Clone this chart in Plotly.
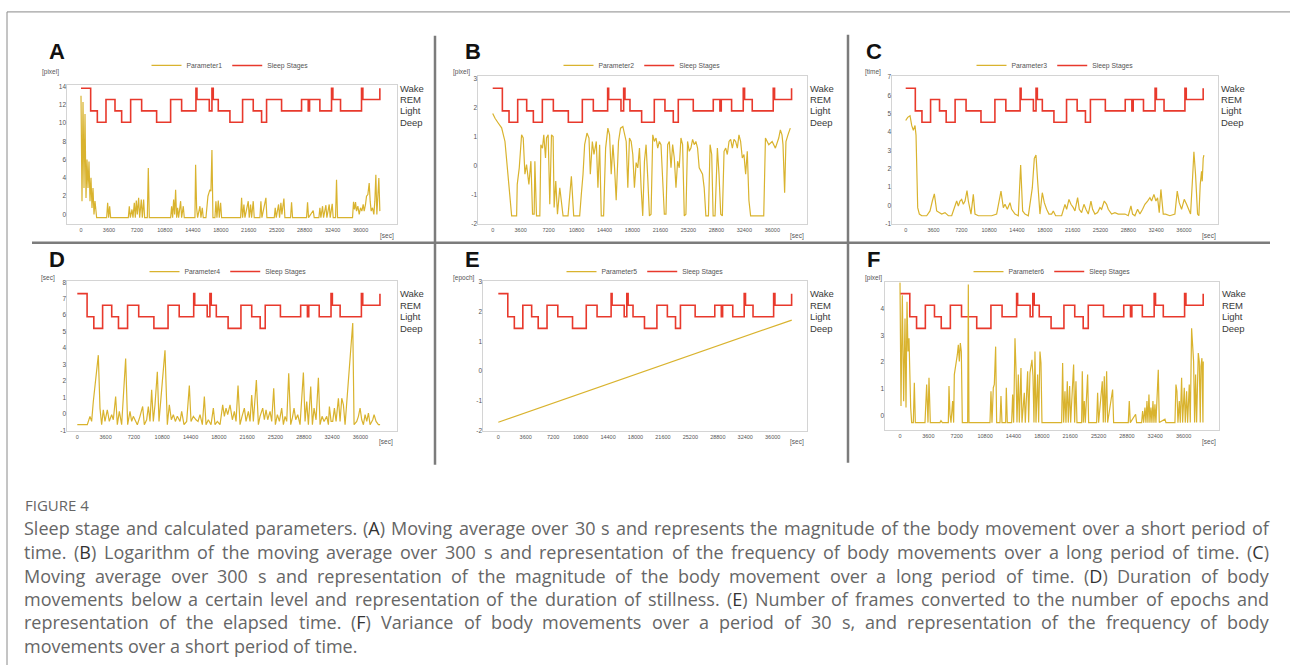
import plotly.graph_objects as go

FIG_W, FIG_H = 1290, 668

# ---------------- data ----------------
X_TICKS = [0, 3600, 7200, 10800, 14400, 18000, 21600, 25200, 28800, 32400, 36000]
STAGE_NAMES = ["Deep", "Light", "REM", "Wake"]          # levels 0..3
STAGE_T = [0, 1244, 2102, 3218, 4376, 5234, 6392, 7808, 9738, 11540, 12956, 14800, 14930,
           16517, 16860, 17031, 17675, 19176, 20807, 22179, 23252, 23895, 25826, 28400,
           29258, 29430, 30760, 32260, 32432, 33419, 36122, 36294, 38482]
STAGE_LEVEL = [3, 1, 0, 2, 1, 0, 2, 1, 0, 2, 1, 3, 2, 1, 3, 2, 1, 0, 2, 1, 0, 2, 1, 2, 1, 2,
               1, 3, 2, 1, 3, 2, 3]

PARAM1 = [(0,13.0),(129,1.45),(257,12.3),(386,2.9),(515,11.0),(644,1.8),(772,6.0),(901,2.9),
 (1030,5.8),(1158,1.45),(1287,4.0),(1416,0.7),(1544,2.9),(1673,0.0),(1802,1.45),(2016,-0.36),
 (3303,-0.36),(3432,1.27),(3561,-0.36),(3689,0.9),(3818,-0.36),(6092,-0.36),(6221,0.9),
 (6349,-0.36),(6564,0.54),(6692,-0.36),(6864,1.27),(6993,-0.36),(7121,1.52),(7250,0.0),
 (7422,1.81),(7550,-0.36),(7765,1.63),(7894,-0.36),(8065,1.63),(8194,-0.36),(8537,-0.36),
 (8666,5.07),(8795,-0.36),(11540,-0.36),(11669,0.9),(11798,-0.36),(11926,1.63),(12055,0.0),
 (12184,2.71),(12312,-0.36),(12441,0.72),(12570,-0.36),(12827,1.45),(12956,-0.36),(13170,0.9),
 (13299,-0.36),(14672,-0.36),(14758,5.43),(14886,0.72),(15015,-0.36),(15315,0.9),(15444,-0.36),
 (15616,0.72),(15744,-0.36),(16088,-0.36),(16216,1.45),(16345,1.99),(16474,2.35),(16602,2.71),
 (16731,2.53),(16860,7.05),(16988,-0.36),(17246,-0.36),(17374,1.45),(17503,-0.36),(17675,1.52),
 (17804,-0.36),(17975,1.27),(18104,-0.36),(20549,-0.36),(20678,1.81),(20807,-0.36),(20978,1.09),
 (21107,-0.36),(21536,1.45),(21664,-0.36),(21836,1.09),(21965,-0.36),(22179,1.45),(22308,-0.36),
 (23037,-0.36),(23166,1.45),(23295,-0.36),(23810,1.81),(23938,-0.36),(24882,-0.36),(25011,0.72),
 (25139,-0.36),(25440,1.09),(25568,-0.36),(25740,1.27),(25869,0.0),(26126,1.74),(26255,-0.36),
 (26984,-0.36),(27113,1.34),(27242,-0.36),(29043,-0.36),(29172,1.34),(29301,-0.36),(29901,0.43),
 (30030,-0.36),(30631,-0.36),(30760,0.72),(30888,-0.36),(31103,0.9),(31231,-0.36),(31532,1.01),
 (31660,-0.36),(31961,1.09),(32089,-0.36),(32347,1.16),(32475,-0.36),(32776,-0.36),(32904,3.8),
 (33033,-0.36),(34964,-0.36),(35092,1.37),(35221,0.54),(35350,1.34),(35478,0.36),(35650,0.9),
 (35822,0.0),(35993,0.72),(36165,0.36),(36336,1.09),(36465,0.36),(36637,1.09),(36765,1.99),
 (36937,2.17),(37109,3.44),(37237,1.45),(37366,0.36),(37538,0.72),(37709,0.0),(37838,1.45),
 (37967,4.34),(38095,0.0),(38224,1.45),(38353,3.98),(38482,0.36)]

PARAM2 = [(0,1.80),(300,1.63),(730,1.46),(1150,1.30),(1580,0.83),(1880,-0.08),(2220,-1.10),
 (2440,-1.74),(3080,-1.74),(3160,-0.65),(3420,-0.08),(3720,1.06),(3930,0.95),(4150,-0.30),
 (4360,0.03),(4660,-0.65),(4920,0.15),(5130,-1.68),(5340,-1.68),(5430,0.15),(5640,-1.74),
 (6070,-1.74),(6200,0.72),(6410,0.60),(6580,1.06),(6800,0.26),(6930,0.95),(7140,1.06),
 (7350,-1.34),(7570,1.06),(7780,1.00),(7910,-1.45),(8120,-0.54),(8340,-1.68),(8640,-0.77),
 (9060,-1.74),(9700,-1.74),(10130,-0.37),(10430,-1.74),(11200,-1.74),(11410,-1.00),(11630,-0.30),
 (11840,0.72),(12140,1.12),(12400,0.95),(12570,-0.30),(12830,0.83),(13040,0.38),(13340,0.83),
 (13550,-0.77),(13770,0.72),(13980,-1.74),(14280,-1.74),(14540,0.60),(14830,1.29),(15050,1.06),
 (15260,-0.30),(15480,0.72),(15690,-0.08),(15900,-1.20),(16200,0.83),(16460,1.29),(16760,1.35),
 (16970,1.06),(17190,0.83),(17400,-0.77),(17610,0.95),(17830,0.83),(18040,0.38),(18250,-0.77),
 (18470,0.10),(18680,-0.08),(18900,0.60),(19110,-0.77),(19320,-1.74),(19540,0.15),(19750,0.72),
 (19960,-0.40),(20180,-1.74),(20390,-1.68),(20610,1.06),(20820,0.83),(21030,0.95),(21250,0.60),
 (21460,0.83),(21670,0.72),(21890,-0.77),(22100,-1.68),(22310,-1.68),(22530,0.72),(22740,0.83),
 (22960,-0.08),(23170,0.72),(23380,0.26),(23600,-0.77),(23810,0.15),(24020,-0.08),(24240,0.95),
 (24450,0.72),(24670,-1.74),(24880,-1.68),(25090,0.83),(25310,0.49),(25520,0.60),(25740,0.90),
 (25950,0.72),(26160,0.83),(26380,0.60),(26590,-0.08),(26800,-0.20),(27020,-0.30),(27230,-0.77),
 (27450,-1.74),(27780,-1.74),(27990,0.72),(28200,0.38),(28380,-1.74),(28630,-1.74),(28930,0.60),
 (29140,-0.30),(29360,-1.68),(29570,-1.74),(29790,0.49),(30000,0.60),(30210,0.38),(30430,0.83),
 (30640,0.90),(30860,0.60),(31070,0.90),(31280,0.83),(31500,0.60),(31710,1.06),(31920,0.83),
 (32140,0.26),(32350,0.38),(32570,-0.30),(32780,0.49),(32990,-1.20),(33210,-1.74),(34050,-1.74),
 (34900,-1.74),(35120,0.95),(35330,0.83),(35550,0.72),(35980,0.83),(36400,0.60),(36830,0.95),
 (37040,1.23),(37250,1.06),(37380,0.72),(37590,-0.94),(37760,0.83),(38020,1.06),(38320,1.29)]

PARAM3 = [(0,4.63),(259,4.80),(560,4.89),(776,4.36),(991,4.09),(1207,4.36),(1336,3.82),
 (1552,-0.11),(1767,-0.46),(2069,-0.55),(2715,-0.55),(3146,-0.29),(3448,0.25),(3707,0.64),
 (4008,-0.29),(4353,-0.38),(4655,-0.46),(5086,-0.38),(5517,-0.55),(5948,-0.55),(6379,0.07),
 (6594,0.25),(6810,-0.02),(7025,0.25),(7241,0.34),(7456,0.07),(7672,0.25),(7930,0.82),
 (8103,0.25),(8448,-0.46),(8749,0.61),(8965,-0.46),(9396,-0.55),(10258,-0.55),(11120,-0.55),
 (11766,-0.46),(12068,0.25),(12327,0.79),(12628,-0.11),(12844,0.07),(13146,-0.20),(13490,0.16),
 (13706,-0.20),(14137,-0.46),(14568,-0.55),(14870,2.21),(15128,-0.29),(15430,-0.46),(15861,-0.55),
 (16378,0.96),(16637,2.57),(16852,2.75),(17068,1.32),(17369,-0.46),(17671,0.70),(17930,0.16),
 (18231,-0.20),(18533,-0.46),(18878,-0.46),(19093,-0.29),(19395,-0.55),(19740,-0.55),(20171,-0.55),
 (20602,0.07),(20817,-0.20),(21119,0.34),(21378,0.07),(21679,-0.11),(21895,-0.29),(22240,0.43),
 (22455,-0.20),(22757,-0.38),(23059,0.07),(23317,-0.20),(23619,-0.46),(23964,0.25),(24179,-0.20),
 (24481,-0.46),(24826,-0.38),(25127,-0.11),(25343,-0.20),(25688,0.25),(25989,0.07),(26205,-0.20),
 (26636,-0.46),(27067,-0.38),(27498,-0.46),(27929,-0.46),(28360,-0.46),(28791,-0.55),(29136,-0.02),
 (29351,-0.46),(29653,-0.55),(29998,-0.20),(30299,-0.46),(30644,-0.20),(30946,0.07),(31291,0.25),
 (31592,0.43),(31808,0.25),(32110,0.61),(32368,0.25),(32584,0.43),(32799,-0.38),(33015,0.88),
 (33316,-0.46),(33618,-0.46),(34178,-0.55),(34825,-0.46),(35127,0.79),(35385,0.16),(35687,-0.20),
 (36032,0.34),(36333,0.07),(36549,-0.20),(36851,-0.46),(37109,1.50),(37282,2.93),(37497,1.68),
 (37756,-0.46),(37928,-0.55),(38100,1.14),(38273,1.86),(38359,1.32),(38488,2.57),(38575,2.75)]

PARAM4 = [(0,-0.66),(1272,-0.66),(1611,-0.15),(1823,-0.46),(2035,0.75),(2671,3.57),(2883,0.35),
 (3095,-0.66),(3307,0.25),(3519,-0.46),(3816,0.25),(4070,-0.46),(4367,-0.05),(4579,-0.36),
 (4876,1.05),(5088,-0.66),(5342,0.15),(5639,-0.66),(6148,3.37),(6402,-0.66),(6699,0.15),
 (6911,-0.46),(7123,-0.15),(7420,-0.46),(7632,-0.66),(7971,-0.15),(8310,0.45),(8522,-0.66),
 (8819,-0.36),(9031,0.45),(9243,-0.46),(9455,1.46),(9667,-0.46),(9879,0.55),(10176,2.56),
 (10388,-0.46),(10600,0.55),(10812,1.96),(11151,3.87),(11448,-0.66),(11702,0.55),(11957,-0.36),
 (12211,-0.05),(12466,-0.46),(12720,-0.15),(13059,-0.46),(13271,0.15),(13568,-0.66),(13907,-0.46),
 (14246,1.72),(14458,-0.46),(14755,-0.15),(15094,-0.36),(15349,-0.46),(15603,-0.05),(15900,-0.66),
 (16154,1.05),(16366,-0.66),(16663,-0.36),(17002,-0.66),(17299,0.35),(17511,-0.66),(17808,-0.46),
 (18147,-0.66),(18486,0.55),(18698,-0.15),(18910,0.35),(19122,-0.05),(19419,0.55),(19716,-0.36),
 (19970,0.15),(20182,-0.46),(20437,1.72),(20691,-0.66),(20946,-0.15),(21242,0.35),(21454,-0.46),
 (21751,0.15),(21963,-0.46),(22175,1.15),(22387,-0.46),(22769,2.06),(23023,-0.66),(23235,-0.15),
 (23574,0.35),(23786,-0.36),(23998,0.25),(24210,-0.36),(24507,0.15),(24719,-0.46),(24974,1.56),
 (25186,-0.66),(25440,-0.05),(25694,-0.46),(25991,0.35),(26203,-0.66),(26415,-0.15),(26627,-0.46),
 (26882,2.46),(27136,-0.66),(27348,-0.25),(27560,0.35),(27772,-0.36),(28026,-0.05),(28323,-0.66),
 (28747,2.52),(28959,-0.46),(29171,0.75),(29383,-0.66),(29680,1.66),(29892,-0.66),(30104,0.35),
 (30358,-0.36),(30655,2.20),(30867,-0.66),(31122,-0.15),(31376,-0.46),(31715,-0.15),(31927,-0.66),
 (32054,0.45),(32266,-0.46),(32478,-0.46),(32690,0.35),(32902,-0.46),(33199,0.95),(33411,-0.46),
 (33623,0.95),(33835,0.55),(34047,-0.66),(35022,5.52),(35192,-0.66),(35531,-0.46),(35743,-0.15),
 (35955,0.35),(36167,-0.36),(36379,-0.66),(36591,-0.05),(36803,-0.46),(37015,0.05),(37227,-0.66),
 (37566,-0.36),(37736,-0.05),(37990,-0.46),(38287,-0.66),(38499,-0.66)]

PARAM5 = [(0,-1.72),(19250,0.0),(38500,1.72)]

PARAM6 = [(0,4.98),(127,0.37),(296,4.49),(465,0.55),(635,3.63),(761,0.31),(888,4.25),(1015,2.40),
 (1142,2.89),(1269,0.80),(1354,0.31),(1481,-0.25),(1692,-0.25),(1819,1.23),(1946,-0.25),
 (3173,-0.25),(3384,1.17),(3553,-0.25),(3680,1.42),(3849,-0.25),(5076,-0.25),(5203,-0.18),
 (5372,-0.25),(6134,-0.25),(6218,1.11),(6345,0.06),(6472,-0.25),(6683,0.55),(6810,-0.25),
 (6895,1.54),(7022,1.91),(7149,2.03),(7276,2.28),(7403,2.65),(7529,2.03),(7656,2.71),(7783,2.40),
 (7910,-0.25),(8587,-0.25),(8672,4.89),(8756,-0.25),(11421,-0.25),(11548,0.92),(11675,-0.25),
 (11844,1.05),(11971,1.17),(12140,2.58),(12267,-0.25),(12690,-0.25),(12817,0.74),(12944,-0.25),
 (13409,-0.25),(13494,1.05),(13621,-0.25),(14171,-0.25),(14297,0.80),(14424,-0.25),(14594,2.89),
 (14720,1.78),(14847,-0.25),(15017,1.54),(15143,-0.25),(15355,1.78),(15482,-0.25),(15778,0.86),
 (15905,-0.25),(16201,1.66),(16328,-0.25),(16497,1.60),(16624,1.97),(16751,2.09),(16878,1.48),
 (17005,-0.25),(17132,2.40),(17258,-0.25),(17470,1.54),(17597,-0.25),(17766,2.40),(17893,1.97),
 (18020,-0.25),(20516,-0.25),(20642,1.97),(20769,-0.25),(20939,0.92),(21065,-0.25),(21235,1.29),
 (21362,-0.25),(21531,1.11),(21658,-0.25),(22038,1.91),(22165,-0.25),(22334,1.29),(22461,-0.25),
 (23054,-0.25),(23138,1.66),(23265,-0.25),(23392,0.55),(23519,-0.25),(23815,1.54),(23942,-0.25),
 (24957,-0.25),(25084,0.86),(25211,-0.25),(25676,1.29),(25803,-0.25),(25930,1.48),(26057,-0.25),
 (26226,1.66),(26353,-0.25),(26987,0.98),(27114,-0.25),(28976,-0.25),(29102,0.55),(29229,-0.25),
 (29906,0.06),(30033,-0.25),(30668,-0.25),(30794,0.18),(30921,-0.25),(31091,0.31),(31217,-0.25),
 (31344,0.55),(31471,-0.25),(31598,0.80),(31725,-0.25),(31852,0.31),(31979,-0.25),(32106,0.55),
 (32233,-0.25),(32360,0.43),(32486,-0.25),(32783,1.72),(32910,-0.25),(33629,-0.12),(33755,-0.25),
 (34898,-0.25),(35024,1.17),(35151,0.92),(35278,-0.25),(35447,0.55),(35574,-0.25),(35744,1.42),
 (35870,-0.25),(36082,1.05),(36209,-0.25),(36378,0.92),(36505,-0.25),(36716,1.17),(36843,-0.25),
 (37013,3.26),(37139,2.77),(37266,2.03),(37393,-0.25),(37520,1.54),(37647,-0.25),(37859,2.34),
 (37985,2.03),(38112,-0.25),(38197,1.85),(38324,2.15),(38451,-0.25),(38493,2.03)]

PARAM_SERIES = [PARAM1, PARAM2, PARAM3, PARAM4, PARAM5, PARAM6]
PARAM_NAMES = ["Parameter1", "Parameter2", "Parameter3", "Parameter4", "Parameter5", "Parameter6"]
Y_UNITS = ["[pixel]", "[pixel]", "[time]", "[sec]", "[epoch]", "[pixel]"]
Y_TICKS = [[0, 2, 4, 6, 8, 10, 12, 14], [-2, -1, 0, 1, 2, 3], [-1, 0, 1, 2, 3, 4, 5, 6, 7],
           [-1, 0, 1, 2, 3, 4, 5, 6, 7, 8], [-2, -1, 0, 1, 2, 3], [0, 1, 2, 3, 4]]
PANEL_LETTERS = ["A", "B", "C", "D", "E", "F"]

CAPTION_TITLE = "FIGURE 4"
CAPTION_LINES = [
    "Sleep stage and calculated parameters. (A) Moving average over 30 s and represents the magnitude of the body movement over a short period of",
    "time. (B) Logarithm of the moving average over 300 s and representation of the frequency of body movements over a long period of time. (C)",
    "Moving average over 300 s and representation of the magnitude of the body movement over a long period of time. (D) Duration of body",
    "movements below a certain level and representation of the duration of stillness. (E) Number of frames converted to the number of epochs and",
    "representation of the elapsed time. (F) Variance of body movements over a period of 30 s, and representation of the frequency of body",
    "movements over a short period of time.",
]

# ---------------- layout (pixel geometry) ----------------
PANELS = [
    dict(box=(67, 397, 83, 223), xr=(-1803, 40690), yr=(-1.05, 14.14), sr=(-8.985, 3.262),
         letter=(57, 49), unit=(60, 70), sec=(387, 235), leg=(230, 63)),
    dict(box=(478, 807, 74, 223), xr=(-1893, 40470), yr=(-2.02, 3.08), sr=(-8.985, 4.05),
         letter=(473, 49), unit=(471, 70), sec=(797, 235), leg=(642, 63)),
    dict(box=(892, 1218, 74, 223), xr=(-1772, 40400), yr=(-1.0, 7.03), sr=(-8.985, 4.05),
         letter=(874, 49), unit=(882, 70), sec=(1209, 235), leg=(1055, 63)),
    dict(box=(67, 397, 281, 432), xr=(-1310, 40650), yr=(-1.05, 8.05), sr=(-8.886, 4.054),
         letter=(57, 259), unit=(56, 277), sec=(386, 443), leg=(228, 271)),
    dict(box=(483, 807, 281, 432), xr=(-2008, 40500), yr=(-2.02, 3.02), sr=(-8.886, 4.054),
         letter=(472, 259), unit=(476, 277), sec=(797, 443), leg=(645, 271)),
    dict(box=(885, 1219, 282, 431), xr=(-1904, 40490), yr=(-0.53, 4.97), sr=(-8.80, 3.968),
         letter=(873, 259), unit=(883, 277), sec=(1209, 443), leg=(1052, 271)),
]

PARAM_COLOR = "#d9b32e"
STAGE_COLOR = "#e8392c"
BOX_COLOR = "#d4d4d4"
TICK_FONT = "Liberation Sans, Arial, sans-serif"


def fx(x):
    return x / FIG_W


def fy(y):
    return 1 - y / FIG_H


fig = go.Figure()
layout = dict(width=FIG_W, height=FIG_H, autosize=False,
              margin=dict(l=0, r=0, t=0, b=0, pad=0),
              paper_bgcolor="white", plot_bgcolor="white",
              font=dict(family=TICK_FONT, color="#555"))
annotations = []
shapes = []

for i, p in enumerate(PANELS):
    n = i + 1
    sfx = "" if n == 1 else str(n)
    x0, x1, y0, y1 = p["box"]
    xname = "x" + sfx
    yname_stage = "y" + sfx
    yname_par = "y" + str(n + 6)
    legname = "legend" + sfx

    pts = PARAM_SERIES[i]
    fig.add_trace(go.Scatter(
        x=[t for t, _ in pts], y=[v for _, v in pts], mode="lines",
        name=PARAM_NAMES[i], line=dict(color=PARAM_COLOR, width=1.2),
        xaxis=xname, yaxis=yname_par, legend=legname, hoverinfo="skip"))
    fig.add_trace(go.Scatter(
        x=STAGE_T, y=STAGE_LEVEL, mode="lines", line_shape="hv",
        name="Sleep Stages", line=dict(color=STAGE_COLOR, width=1.6),
        xaxis=xname, yaxis=yname_stage, legend=legname, hoverinfo="skip"))

    layout["xaxis" + sfx] = dict(
        domain=[fx(x0), fx(x1)], anchor=yname_stage, range=list(p["xr"]),
        tickvals=X_TICKS, ticktext=[str(v) for v in X_TICKS],
        tickfont=dict(size=5.5, color="#555", family=TICK_FONT),
        showline=True, mirror=True, linecolor=BOX_COLOR, linewidth=1,
        showgrid=False, zeroline=False, ticks="", fixedrange=True)
    layout["yaxis" + sfx] = dict(
        domain=[fy(y1), fy(y0)], anchor=xname, side="right", range=list(p["sr"]),
        tickvals=[0, 1, 2, 3], ticktext=STAGE_NAMES,
        tickfont=dict(size=9.5, color="#3a3a3a", family=TICK_FONT),
        showline=True, mirror=True, linecolor=BOX_COLOR, linewidth=1,
        showgrid=False, zeroline=False, ticks="", fixedrange=True)
    layout["yaxis" + str(n + 6)] = dict(
        overlaying=yname_stage, anchor=xname, side="left", range=list(p["yr"]),
        tickvals=Y_TICKS[i], ticktext=[str(v) for v in Y_TICKS[i]],
        tickfont=dict(size=6.5, color="#555", family=TICK_FONT),
        showline=False, showgrid=False, zeroline=False, ticks="", fixedrange=True)
    layout[legname] = dict(
        orientation="h", x=fx(p["leg"][0]), y=fy(p["leg"][1]), xanchor="center",
        yanchor="middle", font=dict(size=6.8, color="#555", family=TICK_FONT),
        bgcolor="rgba(0,0,0,0)", itemwidth=30, tracegroupgap=0)

    lx, ly = p["letter"]
    annotations.append(dict(text="<b>%s</b>" % PANEL_LETTERS[i], x=fx(lx), y=fy(ly),
                            xref="paper", yref="paper", xanchor="center", yanchor="middle",
                            showarrow=False,
                            font=dict(size=22, color="#111", family=TICK_FONT)))
    ux, uy = p["unit"]
    annotations.append(dict(text=Y_UNITS[i], x=fx(ux), y=fy(uy), xref="paper", yref="paper",
                            xanchor="right", yanchor="middle", borderpad=0,
                            showarrow=False, font=dict(size=6.5, color="#555", family=TICK_FONT)))
    sx, sy = p["sec"]
    annotations.append(dict(text="[sec]", x=fx(sx), y=fy(sy), xref="paper", yref="paper",
                            xanchor="center", yanchor="middle",
                            showarrow=False, font=dict(size=6.5, color="#555", family=TICK_FONT)))

# frame and separators
line_gray = "#7c7c7c"
shapes += [
    dict(type="line", xref="paper", yref="paper", x0=fx(7), x1=fx(1290), y0=fy(9), y1=fy(9),
         line=dict(color="#8a8a8a", width=1)),
    dict(type="line", xref="paper", yref="paper", x0=fx(7), x1=fx(7), y0=fy(9), y1=fy(668),
         line=dict(color="#8a8a8a", width=1)),
    dict(type="line", xref="paper", yref="paper", x0=fx(435), x1=fx(435), y0=fy(33), y1=fy(466),
         line=dict(color=line_gray, width=2.5)),
    dict(type="line", xref="paper", yref="paper", x0=fx(848), x1=fx(848), y0=fy(32), y1=fy(464),
         line=dict(color=line_gray, width=2.5)),
    dict(type="line", xref="paper", yref="paper", x0=fx(32), x1=fx(1270), y0=fy(242), y1=fy(242),
         line=dict(color=line_gray, width=2.5)),
]

# ---------------- caption (justified word layout) ----------------
CAP_SIZE = 18
ADV = {  # approximate Open Sans advance widths (units per 2048 em)
    'a': 1139, 'b': 1255, 'c': 975, 'd': 1255, 'e': 1149, 'f': 694, 'g': 1122, 'h': 1257,
    'i': 518, 'j': 518, 'k': 1075, 'l': 518, 'm': 1905, 'n': 1257, 'o': 1237, 'p': 1255,
    'q': 1255, 'r': 836, 's': 977, 't': 723, 'u': 1257, 'v': 1026, 'w': 1593, 'x': 1073,
    'y': 1028, 'z': 977, 'A': 1296, 'B': 1327, 'C': 1292, 'D': 1493, 'E': 1139, 'F': 1057,
    'G': 1491, 'L': 1057, 'M': 1849, 'N': 1544, 'S': 1104, 'T': 1147, 'V': 1255, '.': 545,
    ',': 500, '(': 606, ')': 606, ' ': 532}


def text_w(s):
    return sum(ADV.get(ch, 1171) for ch in s) / 2048.0 * CAP_SIZE


def fmt_word(w):
    if len(w) >= 3 and w[0] == "(" and w[2] == ")" and w[1] in "ABCDEF":
        return "(<span style='color:#333'>%s</span>)%s" % (w[1], w[3:])
    return w


annotations.append(dict(text=CAPTION_TITLE, x=fx(23), y=fy(507), xref="paper", yref="paper",
                        xanchor="left", yanchor="middle", showarrow=False,
                        font=dict(size=15, color="#666", family="Open Sans")))
CAP_LEFT, CAP_RIGHT = 23, 1268
CAP_Y = [530, 554, 578, 601, 625, 649]
for li, line in enumerate(CAPTION_LINES):
    words = line.split(" ")
    widths = [text_w(w) for w in words]
    justify = li < len(CAPTION_LINES) - 1
    if justify:
        gap = (CAP_RIGHT - CAP_LEFT - sum(widths)) / (len(words) - 1)
    else:
        gap = text_w(" ")
    x = CAP_LEFT
    for w, wd in zip(words, widths):
        annotations.append(dict(text=fmt_word(w), x=fx(x), y=fy(CAP_Y[li]), xref="paper",
                                yref="paper", xanchor="left", yanchor="middle",
                                showarrow=False, borderpad=0,
                                font=dict(size=CAP_SIZE, color="#666", family="Open Sans")))
        x += wd + gap

layout["annotations"] = annotations
layout["shapes"] = shapes
fig.update_layout(**layout)
fig.write_html("out.html", config={"displayModeBar": False})
